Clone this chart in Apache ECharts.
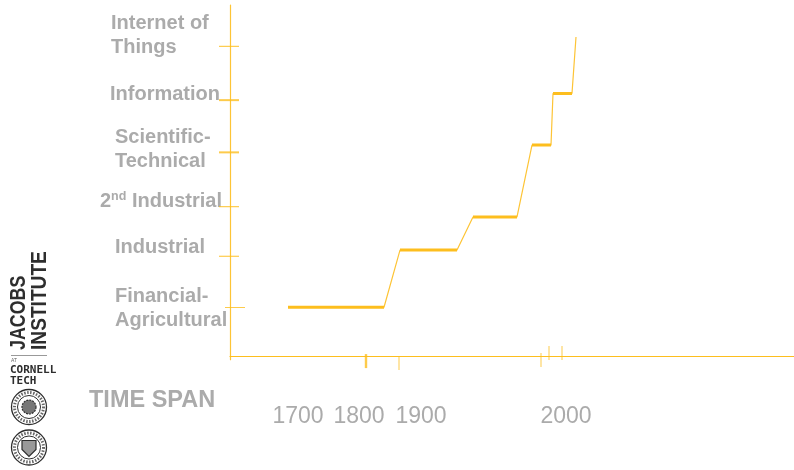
<!DOCTYPE html>
<html>
<head>
<meta charset="utf-8">
<style>html,body{margin:0;padding:0;background:#fff}#c{width:794px;height:470px}</style>
<script src="https://cdn.jsdelivr.net/npm/echarts@6/dist/echarts.min.js"></script>
</head>
<body>
<div id="c"></div>
<script>
// Timeline position is schematic (the reference axis is not linear in years).
const yearLabels = ['1700', '1800', '1900', '2000'];
const yearLabelPos = [68, 129, 191, 336];
const stageNames = ['Financial-Agricultural', 'Industrial', '2nd Industrial', 'Scientific-Technical', 'Information', 'Internet of Things'];
const stageLevels = [0.95, 1.94, 2.9, 3.95, 4.96, 6.0];
const stageTickHeavy = [false, false, false, true, true, false];
const curvePos = [58, 154, 170, 227, 243, 287, 302, 321, 323, 342, 346];
const curveLevel = [0.955, 0.955, 2.06, 2.06, 2.70, 2.70, 4.09, 4.09, 5.09, 5.09, 6.18];
const plateauStart = [58, 170, 243, 302, 323];
const plateauEnd = [154, 227, 287, 321, 342];
const plateauLevel = [0.955, 2.06, 2.70, 4.09, 5.09];
const timeTicksBelow = [169];
const timeTicksMid = [311];
const timeTicksHeavy = [136];
const timeTicksAbove = [319, 332];

const GOLD = '#fdbe1e', GREY = '#ababab', DARK = '#2e2e2e';
const chart = echarts.init(document.getElementById('c'), null, {renderer: 'canvas'});

const plateauData = [];
plateauStart.forEach((s, i) => {
  plateauData.push([s, plateauLevel[i]], [plateauEnd[i], plateauLevel[i]], [null, null]);
});

function tickSeries(name, data, size, offset, color) {
  return {
    name, type: 'scatter', data, symbol: 'rect', symbolSize: size, symbolOffset: offset,
    itemStyle: {color: color || GOLD}, silent: true, z: 3
  };
}
const stageTicks = stageLevels.map((v, i) => [0, v]);
const seriesList = [
  {type: 'line', name: 'transition', data: curvePos.map((p, i) => [p, curveLevel[i]]),
   showSymbol: false, silent: true, lineStyle: {color: '#fdc436', width: 1.2}, z: 2},
  {type: 'line', name: 'plateau', data: plateauData, showSymbol: false, silent: true,
   connectNulls: false, lineStyle: {color: GOLD, width: 3, cap: 'butt'}, z: 3},
  tickSeries('stageThin', stageTicks.filter((d, i) => !stageTickHeavy[i] && i > 0), [20, 1.2], [-1, 0]),
  tickSeries('stageHeavy', stageTicks.filter((d, i) => stageTickHeavy[i]), [20, 2], [-1, 0]),
  tickSeries('stageFirst', stageTicks.slice(0, 1), [20, 1], [5, 0]),
  tickSeries('timeHeavy', timeTicksHeavy.map(p => [p, 0]), [2.4, 14], [0, 4.5]),
  tickSeries('timeBelow', timeTicksBelow.map(p => [p, 0]), [1, 14], [0, 6.5]),
  tickSeries('timeMid', timeTicksMid.map(p => [p, 0]), [1, 14], [0, 3.5]),
  tickSeries('timeAbove', timeTicksAbove.map(p => [p, 0]), [1, 14], [0, -3.5])
];

function txt(text, x, y, opt) {
  return {type: 'text', x, y, silent: true,
    style: Object.assign({text, fill: GREY, font: 'bold 20px "Liberation Sans"', textVerticalAlign: 'middle'}, opt || {})};
}
function seal(cx, cy, inner) {
  return [
    {type: 'circle', shape: {cx, cy, r: 17.5}, style: {fill: '#fff', stroke: DARK, lineWidth: 1.3}, silent: true},
    {type: 'circle', shape: {cx, cy, r: 14.5}, style: {fill: 'none', stroke: '#666', lineWidth: 3, lineDash: [1.5, 1.5]}, silent: true},
    {type: 'circle', shape: {cx, cy, r: 11.5}, style: {fill: 'none', stroke: DARK, lineWidth: 1}, silent: true},
    inner === 'shield'
      ? {type: 'polygon', shape: {points: [[cx - 7, cy - 7], [cx + 7, cy - 7], [cx + 7, cy + 2], [cx, cy + 9], [cx - 7, cy + 2]]}, style: {fill: '#999', stroke: DARK, lineWidth: 1.2}, silent: true}
      : {type: 'circle', shape: {cx, cy, r: 7}, style: {fill: '#777', stroke: DARK, lineWidth: 1.2, lineDash: [2, 1]}, silent: true}
  ];
}
const graphics = [
  txt('Internet of', 111, 23),
  txt('Things', 111, 47),
  txt('Information', 110, 94),
  txt('Scientific-', 115, 137),
  txt('Technical', 115, 161),
  {type: 'text', x: 100, y: 201, silent: true, style: {
    rich: {
      a: {font: 'bold 20px "Liberation Sans"', fill: GREY, verticalAlign: 'middle'},
      s: {font: 'bold 12.5px "Liberation Sans"', fill: GREY, padding: [0, 0, 8, 0]}
    },
    text: '{a|2}{s|nd}{a| Industrial}', textVerticalAlign: 'middle'}},
  txt('Industrial', 115, 247),
  txt('Financial-', 115, 296),
  txt('Agricultural', 115, 320),
  txt('TIME SPAN', 89, 401, {font: 'bold 23.5px "Liberation Sans"'}),
  {type: 'text', x: 19, y: 350, rotation: Math.PI / 2, scaleX: 0.81, silent: true,
    style: {text: 'JACOBS', fill: DARK, font: 'bold 22px "Liberation Sans"', textVerticalAlign: 'middle'}},
  {type: 'text', x: 39.5, y: 350, rotation: Math.PI / 2, scaleX: 0.87, silent: true,
    style: {text: 'INSTITUTE', fill: DARK, font: 'bold 22px "Liberation Sans"', textVerticalAlign: 'middle'}},
  {type: 'rect', shape: {x: 11, y: 355, width: 36, height: 1}, style: {fill: '#999'}, silent: true},
  txt('AT', 11, 361, {font: '5px "Liberation Sans"', fill: '#666'}),
  txt('CORNELL', 10, 370, {font: 'bold 11px "DejaVu Sans Mono", "Liberation Sans"', fill: DARK}),
  txt('TECH', 10, 381, {font: 'bold 11px "DejaVu Sans Mono", "Liberation Sans"', fill: DARK})
].concat(seal(29, 407, 'round'), seal(29, 447.5, 'shield'));

chart.setOption({
  animation: false,
  backgroundColor: '#fff',
  grid: {left: 230, width: 564, top: 5, height: 354.7, containLabel: false},
  xAxis: {
    type: 'value', min: 0, max: 564, position: 'bottom',
    splitLine: {show: false}, axisTick: {show: false},
    axisLine: {show: true, onZero: true, lineStyle: {color: GOLD, width: 1.2}},
    axisLabel: {
      show: true, customValues: yearLabelPos, margin: 45, hideOverlap: false,
      color: GREY, fontSize: 23, fontFamily: 'Liberation Sans',
      formatter: v => yearLabels[yearLabelPos.indexOf(v)]
    }
  },
  yAxis: {
    type: 'value', min: -0.06, max: 6.8,
    splitLine: {show: false}, axisTick: {show: false}, axisLabel: {show: false},
    axisLine: {show: true, onZero: false, lineStyle: {color: '#fdc436', width: 1.2}}
  },
  graphic: graphics,
  series: seriesList
});
</script>
</body>
</html>
